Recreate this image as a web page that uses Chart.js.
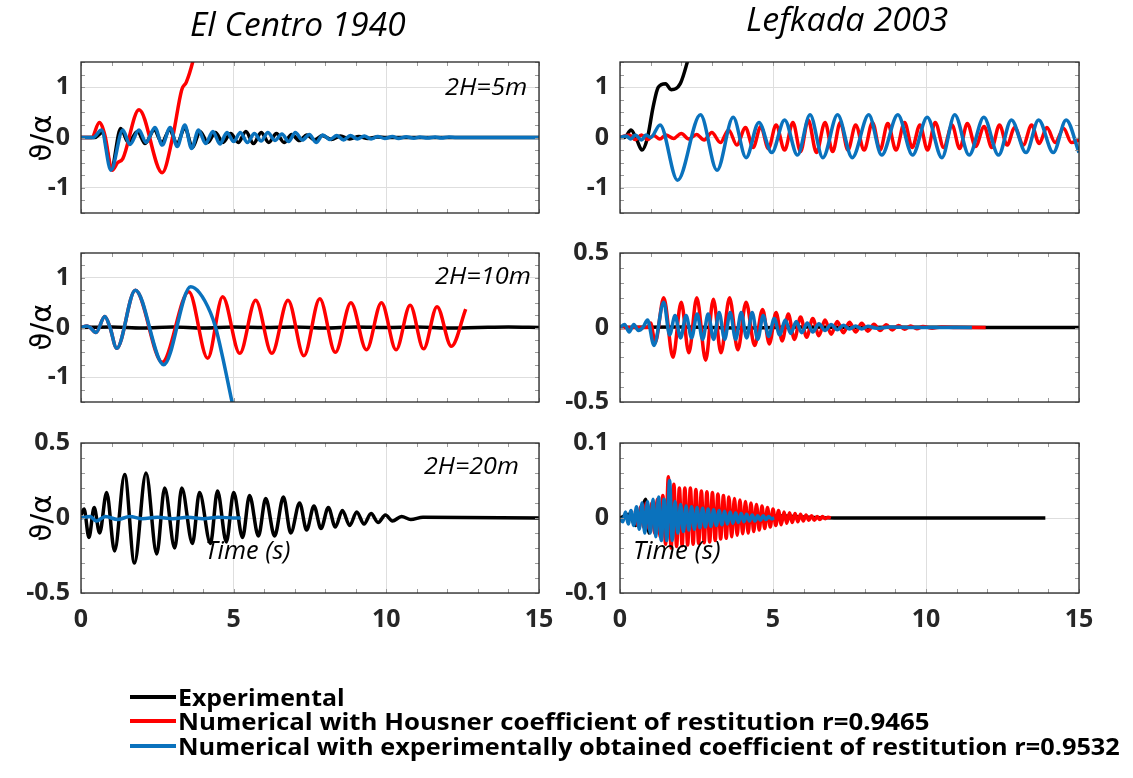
<!DOCTYPE html>
<html>
<head>
<meta charset="utf-8">
<script src="https://cdn.jsdelivr.net/npm/chart.js@4.4.1/dist/chart.umd.min.js"></script>
<style>
  body { margin: 0; background: #fff; width: 1133px; height: 778px; overflow: hidden; position: relative; }
  canvas { position: absolute; left: 0; top: 0; }
  .t { position: absolute; white-space: nowrap; line-height: 1; transform-origin: 0 50%; color: #000; }
  .it { font-family: 'Open Sans', sans-serif; font-style: italic; }
  .lg { font-family: 'Open Sans', sans-serif; font-weight: bold; font-size: 24px; }
  .ylab { position: absolute; font-family: 'DejaVu Sans', sans-serif; font-size: 29px; line-height: 1; white-space: nowrap; transform: translate(-50%, -50%) rotate(-90deg); color: #000; }
  .key { position: absolute; left: 130px; width: 46px; height: 4px; }
</style>
</head>
<body>
<canvas id="c1" width="1133" height="778"></canvas>
<canvas id="c2" width="1133" height="778"></canvas>
<canvas id="c3" width="1133" height="778"></canvas>
<canvas id="c4" width="1133" height="778"></canvas>
<canvas id="c5" width="1133" height="778"></canvas>
<canvas id="c6" width="1133" height="778"></canvas>

<div class="t it" data-w="216" style="left:190px;top:7px;font-size:33px">El Centro 1940</div>
<div class="t it" data-w="202" style="left:746px;top:2px;font-size:33px">Lefkada 2003</div>

<div class="ylab" style="left:41px;top:138px">ϑ/α</div>
<div class="ylab" style="left:41px;top:327px">ϑ/α</div>
<div class="ylab" style="left:41px;top:518px">ϑ/α</div>

<div class="t it" data-w="82" style="left:445px;top:75px;font-size:23px">2H=5m</div>
<div class="t it" data-w="96" style="left:435px;top:264px;font-size:23px">2H=10m</div>
<div class="t it" data-w="95" style="left:424px;top:454px;font-size:23px">2H=20m</div>
<div class="t it" data-w="86" style="left:205px;top:537px;font-size:25px">Time (s)</div>
<div class="t it" data-w="88" style="left:633px;top:537px;font-size:25px">Time (s)</div>

<div class="key" style="top:695px;background:#000"></div>
<div class="key" style="top:719px;background:#ff0000"></div>
<div class="key" style="top:744px;background:#0a72bd"></div>
<div class="t lg" data-w="167" style="left:178px;top:685px">Experimental</div>
<div class="t lg" data-w="752" style="left:178px;top:709px">Numerical with Housner coefficient of restitution r=0.9465</div>
<div class="t lg" data-w="942" style="left:178px;top:734px">Numerical with experimentally obtained coefficient of restitution r=0.9532</div>

<script>
// tick values
const xTicks = [0, 5, 10, 15];
const yTicksWide = [-1, 0, 1];
const yTicksHalf = [-0.5, 0, 0.5];
const yTicksTenth = [-0.1, 0, 0.1];

// El Centro 1940, 2H=5m
const ec5ExpT = [0, 0.45, 0.7, 1.0, 1.3, 1.55, 1.85, 2.1, 2.4, 2.65, 2.9, 3.15, 3.4, 3.65, 3.9, 4.15, 4.4, 4.65, 4.9, 5.15, 5.4, 5.65, 5.9, 6.15, 6.4, 6.65, 6.9, 7.15, 7.4, 7.65, 7.9, 8.2, 8.5, 8.8, 9.1, 9.4, 9.7, 10, 15];
const ec5ExpY = [0, 0, 0.1, -0.6, 0.18, -0.1, 0.12, -0.12, 0.15, -0.1, 0.15, -0.12, 0.2, -0.2, 0.12, -0.1, 0.1, -0.1, 0.08, -0.1, 0.12, -0.12, 0.1, -0.1, 0.08, -0.1, 0.06, -0.06, 0.05, -0.05, 0.04, -0.04, 0.03, -0.03, 0.02, -0.02, 0.01, 0, 0];
const ec5HouT = [0, 0.35, 0.6, 0.78, 1.02, 1.2, 1.37, 1.9, 2.66, 3.0, 3.3, 3.45, 3.7, 3.9];
const ec5HouY = [0, 0, 0.3, 0.05, -0.65, -0.5, -0.42, 0.55, -0.7, 0, 0.95, 1.1, 1.6, 2.2];
const ec5ObsT = [0, 0.4, 0.67, 0.98, 1.37, 1.6, 1.9, 2.13, 2.42, 2.66, 2.92, 3.15, 3.4, 3.62, 3.85, 4.08, 4.32, 4.55, 4.78, 5.0, 5.22, 5.45, 5.68, 5.9, 6.12, 6.35, 6.58, 6.8, 7.02, 7.25, 7.48, 7.7, 7.92, 8.15, 8.38, 8.6, 8.82, 9.05, 9.28, 9.5, 9.72, 9.95, 10.2, 10.4, 10.65, 10.9, 11.1, 11.35, 11.6, 11.8, 12.05, 12.3, 15];
const ec5ObsY = [0, 0, 0.15, -0.65, 0.15, -0.14, 0.15, -0.1, 0.2, -0.15, 0.2, -0.18, 0.25, -0.22, 0.15, -0.12, 0.12, -0.13, 0.1, -0.08, 0.1, -0.1, 0.08, -0.07, 0.1, -0.06, 0.07, -0.08, 0.1, -0.05, 0.06, -0.1, 0.05, -0.04, 0.04, -0.05, 0.04, -0.03, 0.03, -0.03, 0.02, -0.02, 0.02, -0.02, 0.015, -0.015, 0.01, -0.01, 0.01, -0.01, 0.01, 0, 0];

// Lefkada 2003, 2H=5m
const lf5ExpT = [0, 0.15, 0.36, 0.55, 0.72, 0.9, 1.08, 1.25, 1.49, 1.67, 1.97, 2.2, 2.4];
const lf5ExpY = [0, 0, 0.15, -0.05, -0.25, 0, 0.6, 1.0, 1.07, 0.95, 1.07, 1.5, 2.0];
const lf5HouT = [0, 0.3, 0.5, 0.7, 0.9, 1.1, 1.3, 1.5, 1.75, 2.0, 2.25, 2.5, 2.75, 3.0, 3.28, 3.55, 3.82, 4.1, 4.35, 4.6, 4.85, 5.1, 5.38, 5.65, 5.9, 6.15, 6.42, 6.7, 6.95, 7.2, 7.45, 7.7, 7.98, 8.25, 8.5, 8.75, 9.02, 9.3, 9.55, 9.8, 10.05, 10.3, 10.58, 10.85, 11.1, 11.35, 11.62, 11.9, 12.15, 12.4, 12.65, 12.9, 13.18, 13.45, 13.7, 13.95, 14.22, 14.5, 14.75, 15];
const lf5HouY = [0, 0.05, -0.04, 0.05, -0.04, 0.04, -0.03, 0.05, -0.02, 0.08, -0.03, 0.06, -0.05, 0.1, -0.1, 0.15, -0.15, 0.2, -0.2, 0.22, -0.22, 0.25, -0.25, 0.3, -0.28, 0.35, -0.3, 0.3, -0.28, 0.3, -0.25, 0.25, -0.25, 0.3, -0.25, 0.28, -0.25, 0.3, -0.2, 0.25, -0.25, 0.3, -0.2, 0.25, -0.22, 0.28, -0.18, 0.22, -0.2, 0.25, -0.15, 0.2, -0.15, 0.25, -0.12, 0.2, -0.1, 0.18, -0.1, -0.05];
const lf5ObsT = [0, 0.2, 0.35, 0.5, 0.7, 0.85, 1.0, 1.31, 1.88, 2.63, 3.17, 3.7, 4.12, 4.54, 4.96, 5.38, 5.8, 6.21, 6.63, 7.11, 7.59, 8.13, 8.55, 9.08, 9.56, 10.04, 10.52, 10.94, 11.41, 11.89, 12.37, 12.79, 13.27, 13.68, 14.16, 14.58, 15];
const lf5ObsY = [0, 0.03, -0.03, 0.05, -0.05, 0.05, 0, 0.25, -0.85, 0.45, -0.65, 0.4, -0.4, 0.3, -0.3, 0.35, -0.35, 0.45, -0.4, 0.45, -0.4, 0.45, -0.35, 0.45, -0.35, 0.4, -0.4, 0.45, -0.35, 0.4, -0.35, 0.35, -0.3, 0.35, -0.3, 0.35, -0.3];

// El Centro 1940, 2H=10m
const ec10ExpT = [0, 1, 2, 3, 4, 5, 6, 7, 8, 9, 10, 11, 12, 13, 14, 15];
const ec10ExpY = [0, 0.01, -0.01, 0.01, -0.01, 0.01, 0, 0.01, -0.01, 0.01, 0, 0.01, -0.01, 0, 0.01, 0];
const ec10HouT = [0, 0.2, 0.3, 0.49, 0.78, 0.95, 1.17, 1.78, 2.66, 3.53, 4.15, 4.64, 5.2, 5.72, 6.25, 6.78, 7.3, 7.82, 8.33, 8.84, 9.35, 9.84, 10.32, 10.78, 11.22, 11.66, 12.13, 12.6];
const ec10HouY = [0, 0.03, 0, -0.1, 0.22, 0, -0.42, 0.75, -0.7, 0.72, -0.62, 0.62, -0.52, 0.55, -0.52, 0.55, -0.57, 0.58, -0.5, 0.5, -0.45, 0.5, -0.45, 0.45, -0.43, 0.42, -0.38, 0.37];
const ec10ObsT = [0, 0.2, 0.3, 0.49, 0.78, 0.95, 1.17, 1.78, 2.71, 3.59, 3.88, 4.24, 4.41, 4.64, 4.93, 5.2];
const ec10ObsY = [0, 0.03, 0, -0.1, 0.22, 0, -0.42, 0.75, -0.75, 0.82, 0.7, 0.3, 0, -0.6, -1.45, -2.2];

// Lefkada 2003, 2H=10m
const lf10ExpT = [0, 2, 4, 6, 8, 10, 12, 15];
const lf10ExpY = [0, 0.003, -0.003, 0.003, 0, 0.002, 0, 0];
const lf10HouT = [0, 0.9, 1.0, 1.15, 1.43, 1.73, 2.0, 2.25, 2.51, 2.8, 3.05, 3.3, 3.58, 3.85, 4.12, 4.4, 4.66, 4.88, 5.1, 5.3, 5.5, 5.7, 5.9, 6.1, 6.3, 6.5, 6.7, 6.9, 7.1, 7.3, 7.5, 7.7, 7.9, 8.1, 8.3, 8.5, 8.7, 8.9, 9.1, 9.3, 9.5, 9.7, 9.9, 10.2, 10.5, 11, 11.95];
const lf10HouY = [0, 0, 0.03, -0.1, 0.2, -0.2, 0.17, -0.17, 0.2, -0.22, 0.19, -0.17, 0.2, -0.15, 0.17, -0.12, 0.12, -0.11, 0.1, -0.09, 0.09, -0.08, 0.07, -0.065, 0.06, -0.055, 0.05, -0.045, 0.04, -0.035, 0.035, -0.03, 0.028, -0.025, 0.022, -0.02, 0.018, -0.016, 0.014, -0.012, 0.01, -0.008, 0.006, -0.005, 0.003, 0, 0];
const lf10ObsT = [0, 0.15, 0.3, 0.45, 0.6, 0.75, 0.9, 1.11, 1.43, 1.62, 1.8, 1.98, 2.16, 2.34, 2.52, 2.7, 2.88, 3.06, 3.24, 3.42, 3.6, 3.78, 3.96, 4.14, 4.32, 4.5, 4.68, 4.86, 5.04, 5.22, 5.4, 5.58, 5.76, 5.94, 6.12, 6.3, 6.5, 6.7, 6.9, 7.1, 7.3, 7.5, 7.7, 7.9, 8.1, 8.4, 8.8, 9.5, 11.5];
const lf10ObsY = [0, 0.02, -0.03, 0.02, -0.02, 0, 0.05, -0.12, 0.17, -0.05, 0.08, -0.07, 0.08, -0.07, 0.09, -0.08, 0.09, -0.08, 0.1, -0.08, 0.1, -0.08, 0.1, -0.07, 0.1, -0.08, 0.08, -0.06, 0.06, -0.05, 0.05, -0.04, 0.04, -0.035, 0.03, -0.03, 0.025, -0.02, 0.02, -0.015, 0.015, -0.01, 0.01, -0.01, 0.008, -0.005, 0.003, 0, 0];

// El Centro 1940, 2H=20m
const ec20ExpT = [0, 0.1, 0.26, 0.43, 0.61, 0.84, 1.1, 1.43, 1.75, 2.13, 2.48, 2.74, 3.07, 3.3, 3.65, 3.88, 4.24, 4.47, 4.76, 5.0, 5.29, 5.52, 5.81, 6.05, 6.34, 6.63, 6.87, 7.16, 7.39, 7.63, 7.86, 8.1, 8.33, 8.56, 8.8, 9.03, 9.27, 9.5, 9.73, 9.97, 10.2, 10.5, 10.8, 11.2, 15];
const ec20ExpY = [0.02, 0.06, -0.13, 0.07, -0.1, 0.17, -0.22, 0.29, -0.3, 0.3, -0.24, 0.2, -0.2, 0.2, -0.17, 0.17, -0.17, 0.18, -0.16, 0.17, -0.13, 0.15, -0.12, 0.13, -0.12, 0.14, -0.1, 0.1, -0.08, 0.08, -0.07, 0.07, -0.06, 0.05, -0.05, 0.04, -0.04, 0.03, -0.03, 0.02, -0.02, 0.01, -0.01, 0.005, 0];
const ec20ObsT = [0, 0.3, 0.5, 0.8, 1.2, 1.6, 2, 2.5, 3, 3.5, 4, 4.5, 5, 5.23];
const ec20ObsY = [0, 0.01, -0.02, 0.01, -0.01, 0.01, -0.005, 0.005, -0.005, 0.005, -0.005, 0.005, 0, 0];

// Lefkada 2003, 2H=20m (dense records: start time, sample step, values)
const lf20ExpT = [0, 0.3, 0.5, 0.7, 0.84, 0.95, 1.1, 1.3, 1.5, 1.7, 2, 3, 5, 7, 13.9];
const lf20ExpY = [0, 0.005, -0.01, 0.01, 0.025, -0.02, 0.02, -0.02, 0.02, -0.02, 0.01, -0.01, 0.003, 0, 0];
const lf20HouStart = 0.5, lf20HouStep = 0.09;
const lf20HouY = [0.01, -0.01, 0.015, -0.012, 0.02, -0.015, 0.02, -0.02, 0.025, -0.025, 0.03, -0.035, 0.055, -0.04, 0.045, -0.038, 0.04, -0.037, 0.04, -0.036, 0.04, -0.035, 0.038, -0.034, 0.036, -0.033, 0.035, -0.032, 0.034, -0.03, 0.032, -0.028, 0.03, -0.027, 0.028, -0.025, 0.026, -0.023, 0.024, -0.021, 0.022, -0.02, 0.02, -0.018, 0.018, -0.016, 0.016, -0.014, 0.014, -0.012, 0.012, -0.01, 0.01, -0.009, 0.008, -0.007, 0.007, -0.006, 0.006, -0.005, 0.005, -0.004, 0.004, -0.003, 0.003, -0.003, 0.002, -0.002, 0.002, -0.001, 0.001, 0];
const lf20ObsStart = 0, lf20ObsStep = 0.09;
const lf20ObsY = [0, -0.005, 0.008, -0.008, 0.01, -0.01, 0.015, -0.015, 0.02, -0.02, 0.022, -0.02, 0.025, -0.025, 0.028, -0.03, 0.025, -0.03, 0.05, -0.03, 0.022, -0.02, 0.018, -0.018, 0.016, -0.016, 0.015, -0.015, 0.014, -0.013, 0.013, -0.012, 0.012, -0.011, 0.011, -0.01, 0.01, -0.009, 0.009, -0.008, 0.008, -0.007, 0.007, -0.006, 0.006, -0.005, 0.005, -0.004, 0.004, -0.004, 0.003, -0.003, 0.003, -0.002, 0.002, -0.001, 0];

const colExp = '#000000', colHou = '#ff0000', colObs = '#0a72bd';
const tickFont = { family: 'Open Sans', size: 25, weight: 'bold' };

const pairs = (ts, ys) => ts.map((t, i) => ({ x: t, y: ys[i] }));
const sampled = (t0, dt, ys) => ys.map((y, i) => ({ x: t0 + i * dt, y }));

const panels = [
  { id: 'c1', box: [81, 62, 539, 213], yMax: 1.5, yTicks: yTicksWide, yMinor: 0.25, xLabels: false,
    exp: pairs(ec5ExpT, ec5ExpY), hou: pairs(ec5HouT, ec5HouY), obs: pairs(ec5ObsT, ec5ObsY) },
  { id: 'c2', box: [620, 62, 1079, 213], yMax: 1.5, yTicks: yTicksWide, yMinor: 0.25, xLabels: false,
    exp: pairs(lf5ExpT, lf5ExpY), hou: pairs(lf5HouT, lf5HouY), obs: pairs(lf5ObsT, lf5ObsY) },
  { id: 'c3', box: [81, 253, 539, 402], yMax: 1.5, yTicks: yTicksWide, yMinor: 0.25, xLabels: false,
    exp: pairs(ec10ExpT, ec10ExpY), hou: pairs(ec10HouT, ec10HouY), obs: pairs(ec10ObsT, ec10ObsY) },
  { id: 'c4', box: [620, 253, 1079, 402], yMax: 0.5, yTicks: yTicksHalf, yMinor: 0.1, xLabels: false,
    exp: pairs(lf10ExpT, lf10ExpY), hou: pairs(lf10HouT, lf10HouY), obs: pairs(lf10ObsT, lf10ObsY) },
  { id: 'c5', box: [81, 443, 539, 593], yMax: 0.5, yTicks: yTicksHalf, yMinor: 0.1, xLabels: true,
    exp: pairs(ec20ExpT, ec20ExpY), hou: null, obs: pairs(ec20ObsT, ec20ObsY) },
  { id: 'c6', box: [620, 443, 1079, 593], yMax: 0.1, yTicks: yTicksTenth, yMinor: 0.02, xLabels: true,
    exp: pairs(lf20ExpT, lf20ExpY), hou: sampled(lf20HouStart, lf20HouStep, lf20HouY), obs: sampled(lf20ObsStart, lf20ObsStep, lf20ObsY) }
];

// frame + inward minor ticks, drawn over the lines like MATLAB axes
const framePlugin = {
  id: 'frame',
  afterDraw(chart, args, opts) {
    const { ctx, chartArea: a, scales: { x, y } } = chart;
    ctx.save();
    ctx.strokeStyle = '#9a9a9a';
    ctx.lineWidth = 1;
    ctx.beginPath();
    for (let v = 0; v <= 15; v++) {
      const px = Math.round(x.getPixelForValue(v)) + 0.5;
      ctx.moveTo(px, a.top); ctx.lineTo(px, a.top + 4);
      ctx.moveTo(px, a.bottom); ctx.lineTo(px, a.bottom - 4);
    }
    const n = Math.round(2 * opts.yMax / opts.yMinor);
    for (let k = 0; k <= n; k++) {
      const py = Math.round(y.getPixelForValue(-opts.yMax + k * opts.yMinor)) + 0.5;
      ctx.moveTo(a.left, py); ctx.lineTo(a.left + 4, py);
      ctx.moveTo(a.right, py); ctx.lineTo(a.right - 4, py);
    }
    ctx.stroke();
    ctx.strokeStyle = '#262626';
    ctx.lineWidth = 1.3;
    ctx.strokeRect(a.left, a.top, a.right - a.left, a.bottom - a.top);
    ctx.restore();
  }
};

function drawPanel(p) {
  const [l, t, r, b] = p.box;
  const yW = 60, xH = 50;
  const line = (data, color) => ({ data, borderColor: color, borderWidth: 3.5, pointRadius: 0, fill: false, cubicInterpolationMode: 'monotone' });
  // first dataset is painted last, so blue sits on top
  const datasets = [line(p.obs, colObs)];
  if (p.hou) datasets.push(line(p.hou, colHou));
  datasets.push(line(p.exp, colExp));

  new Chart(document.getElementById(p.id), {
    type: 'line',
    data: { datasets },
    options: {
      responsive: false, animation: false, events: [],
      layout: { padding: { left: l - yW, top: t, right: 1133 - r, bottom: 778 - b - xH } },
      plugins: { legend: { display: false }, tooltip: { enabled: false }, frame: { yMax: p.yMax, yMinor: p.yMinor } },
      scales: {
        x: {
          type: 'linear', min: 0, max: 15,
          afterBuildTicks: s => { s.ticks = xTicks.map(v => ({ value: v })); },
          afterFit: s => { s.height = xH; },
          grid: { color: '#dedede', drawTicks: false },
          border: { display: false },
          ticks: { display: p.xLabels, padding: 12, color: '#262626', font: tickFont, maxRotation: 0, autoSkip: false, callback: v => String(v) }
        },
        y: {
          type: 'linear', min: -p.yMax, max: p.yMax,
          afterBuildTicks: s => { s.ticks = p.yTicks.map(v => ({ value: v })); },
          afterFit: s => { s.width = yW; },
          grid: { color: '#dedede', drawTicks: false },
          border: { display: false },
          ticks: { padding: 11, color: '#262626', font: tickFont, autoSkip: false, callback: v => String(v) }
        }
      }
    },
    plugins: [framePlugin]
  });
}

function fitText() {
  document.querySelectorAll('[data-w]').forEach(el => {
    const w = +el.dataset.w;
    el.style.transform = 'scaleX(' + (w / el.offsetWidth) + ')';
  });
}

document.fonts.ready.then(() => {
  fitText();
  panels.forEach(drawPanel);
});
</script>
</body>
</html>
